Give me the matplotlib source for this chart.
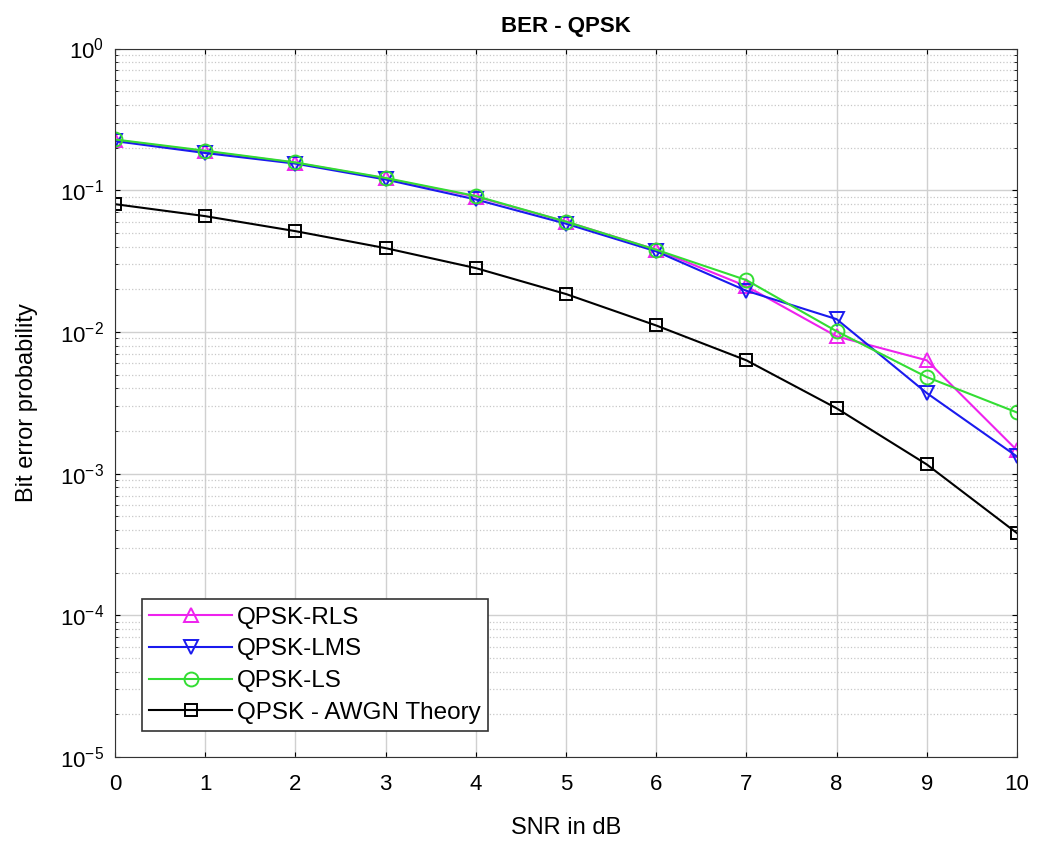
import numpy as np
import matplotlib.pyplot as plt

snr = [0, 1, 2, 3, 4, 5, 6, 7, 8, 9, 10]

ber_rls = [0.226, 0.188, 0.156, 0.121, 0.090, 0.060, 0.038, 0.021, 0.0093, 0.0063, 0.00146]
ber_lms = [0.222, 0.183, 0.154, 0.119, 0.086, 0.058, 0.037, 0.0195, 0.0123, 0.0037, 0.00132]
ber_ls = [0.228, 0.190, 0.157, 0.122, 0.091, 0.060, 0.038, 0.0232, 0.0101, 0.0048, 0.0027]
ber_theory = [0.0797, 0.0656, 0.0514, 0.039, 0.0282, 0.0185, 0.0111, 0.0063, 0.00289, 0.00116, 0.00038]

labels = ['QPSK-RLS', 'QPSK-LMS', 'QPSK-LS', 'QPSK - AWGN Theory']

plt.rcParams['font.family'] = ['Liberation Sans', 'DejaVu Sans']

fig = plt.figure(figsize=(10.39, 8.51), dpi=100)
ax = fig.add_axes([0.1107, 0.1105, 0.8681, 0.8325])

ax.semilogy(snr, ber_rls, '-^', color='#ee22ee', mfc='none', ms=10, mew=1.4, lw=1.5, label=labels[0])
ax.semilogy(snr, ber_lms, '-v', color='#1a1aee', mfc='none', ms=10, mew=1.4, lw=1.5, label=labels[1])
ax.semilogy(snr, ber_ls, '-o', color='#33dd33', mfc='none', ms=10, mew=1.4, lw=1.5, label=labels[2])
ax.semilogy(snr, ber_theory, '-s', color='black', mfc='none', ms=9, mew=1.4, lw=1.5, label=labels[3])

ax.set_xlim(0, 10)
ax.set_ylim(1e-5, 1)
ax.set_xticks(snr)
ax.grid(True, which='major', color='#d0d0d0', lw=1.0)
ax.grid(True, which='minor', color='#c8c8c8', ls=':', lw=0.9)
ax.tick_params(which='both', direction='in', top=True, right=True, labelsize=16)
ax.tick_params(axis='x', pad=12)
ax.tick_params(axis='y', pad=8)
for s in ax.spines.values():
    s.set_color('#333333')

ax.set_title('BER - QPSK', fontsize=16, fontweight='bold', pad=12)
ax.set_xlabel('SNR in dB', fontsize=17, labelpad=16)
ax.set_ylabel('Bit error probability', fontsize=17, labelpad=16)

leg = ax.legend(loc='lower left', bbox_to_anchor=(0.022, 0.026), fontsize=17.5,
                handlelength=3.4, fancybox=False, edgecolor='#333333', framealpha=1,
                borderpad=0.3, labelspacing=0.4, handletextpad=0.2, borderaxespad=0.3)
leg.get_frame().set_linewidth(1.2)

fig.savefig('out.png', dpi=100)
